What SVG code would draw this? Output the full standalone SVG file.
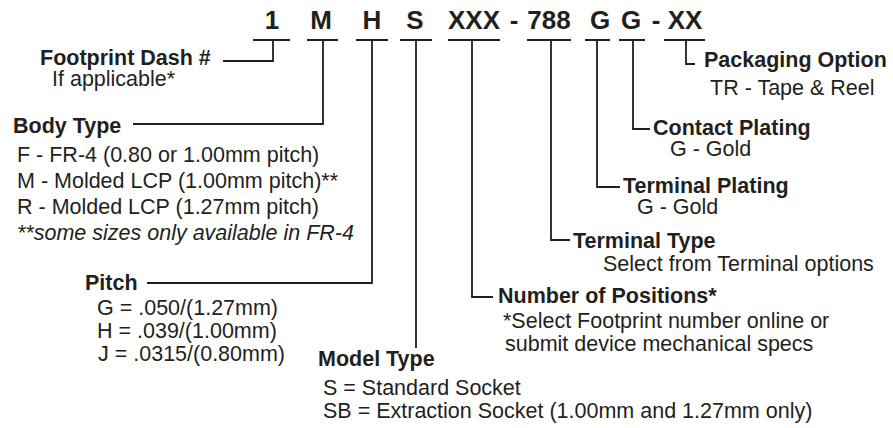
<svg xmlns="http://www.w3.org/2000/svg" width="893" height="428" viewBox="0 0 893 428">
<style>
text{font-family:"Liberation Sans",Arial,sans-serif;fill:#231f20;font-size:21.5px}
.b{font-weight:bold}
.code{font-weight:bold;font-size:26px;text-anchor:middle}
.i{font-style:italic}
.ln{stroke:#231f20;stroke-width:1.8;fill:none}
</style>
<rect width="893" height="428" fill="#ffffff"/>
<g id="code">
<text class="code" x="272" y="29">1</text>
<text class="code" x="321" y="29">M</text>
<text class="code" x="372" y="29">H</text>
<text class="code" x="415" y="29">S</text>
<text class="code" x="474" y="29">XXX</text>
<text class="code" x="514" y="29">-</text>
<text class="code" x="549" y="29">788</text>
<text class="code" x="600" y="29">G</text>
<text class="code" x="631" y="29">G</text>
<text class="code" x="656" y="29">-</text>
<text class="code" x="685" y="29">XX</text>
</g>
<g id="connectors" class="ln">
<path d="M253 40H290M273 40V61H223"/>
<path d="M307 40H338M323 40V124H133"/>
<path d="M356 40H388M372 40V283H147"/>
<path d="M400 40H432M416 40V348"/>
<path d="M448 40H500M472 40V297H493"/>
<path d="M527 40H571M551 40V240H570"/>
<path d="M585 40H610M597 40V187H620"/>
<path d="M619 40H645M633 40V129H650"/>
<path d="M664 40H705M686 40V64H695"/>
</g>
<g id="footprint-dash">
<text class="b" x="40" y="65">Footprint Dash #</text>
<text x="52" y="86">If applicable*</text>
</g>
<g id="body-type">
<text class="b" x="13" y="133">Body Type</text>
<text x="17" y="162">F - FR-4 (0.80 or 1.00mm pitch)</text>
<text x="17" y="188">M - Molded LCP (1.00mm pitch)**</text>
<text x="17" y="214">R - Molded LCP (1.27mm pitch)</text>
<text class="i" x="17" y="240">**some sizes only available in FR-4</text>
</g>
<g id="pitch">
<text class="b" x="85" y="290">Pitch</text>
<text x="97" y="315">G = .050/(1.27mm)</text>
<text x="97" y="338">H = .039/(1.00mm)</text>
<text x="98" y="361">J = .0315/(0.80mm)</text>
</g>
<g id="model-type">
<text class="b" x="318" y="366">Model Type</text>
<text x="323" y="395">S = Standard Socket</text>
<text x="323" y="418">SB = Extraction Socket (1.00mm and 1.27mm only)</text>
</g>
<g id="number-of-positions">
<text class="b" x="498" y="303">Number of Positions*</text>
<text x="503" y="328">*Select Footprint number online or</text>
<text x="505" y="351">submit device mechanical specs</text>
</g>
<g id="terminal-type">
<text class="b" x="573" y="248">Terminal Type</text>
<text x="603" y="271">Select from Terminal options</text>
</g>
<g id="terminal-plating">
<text class="b" x="623" y="193">Terminal Plating</text>
<text x="637" y="214">G - Gold</text>
</g>
<g id="contact-plating">
<text class="b" x="653" y="135">Contact Plating</text>
<text x="670" y="156">G - Gold</text>
</g>
<g id="packaging-option">
<text class="b" x="704" y="67">Packaging Option</text>
<text x="710" y="95">TR - Tape &amp; Reel</text>
</g>
</svg>
